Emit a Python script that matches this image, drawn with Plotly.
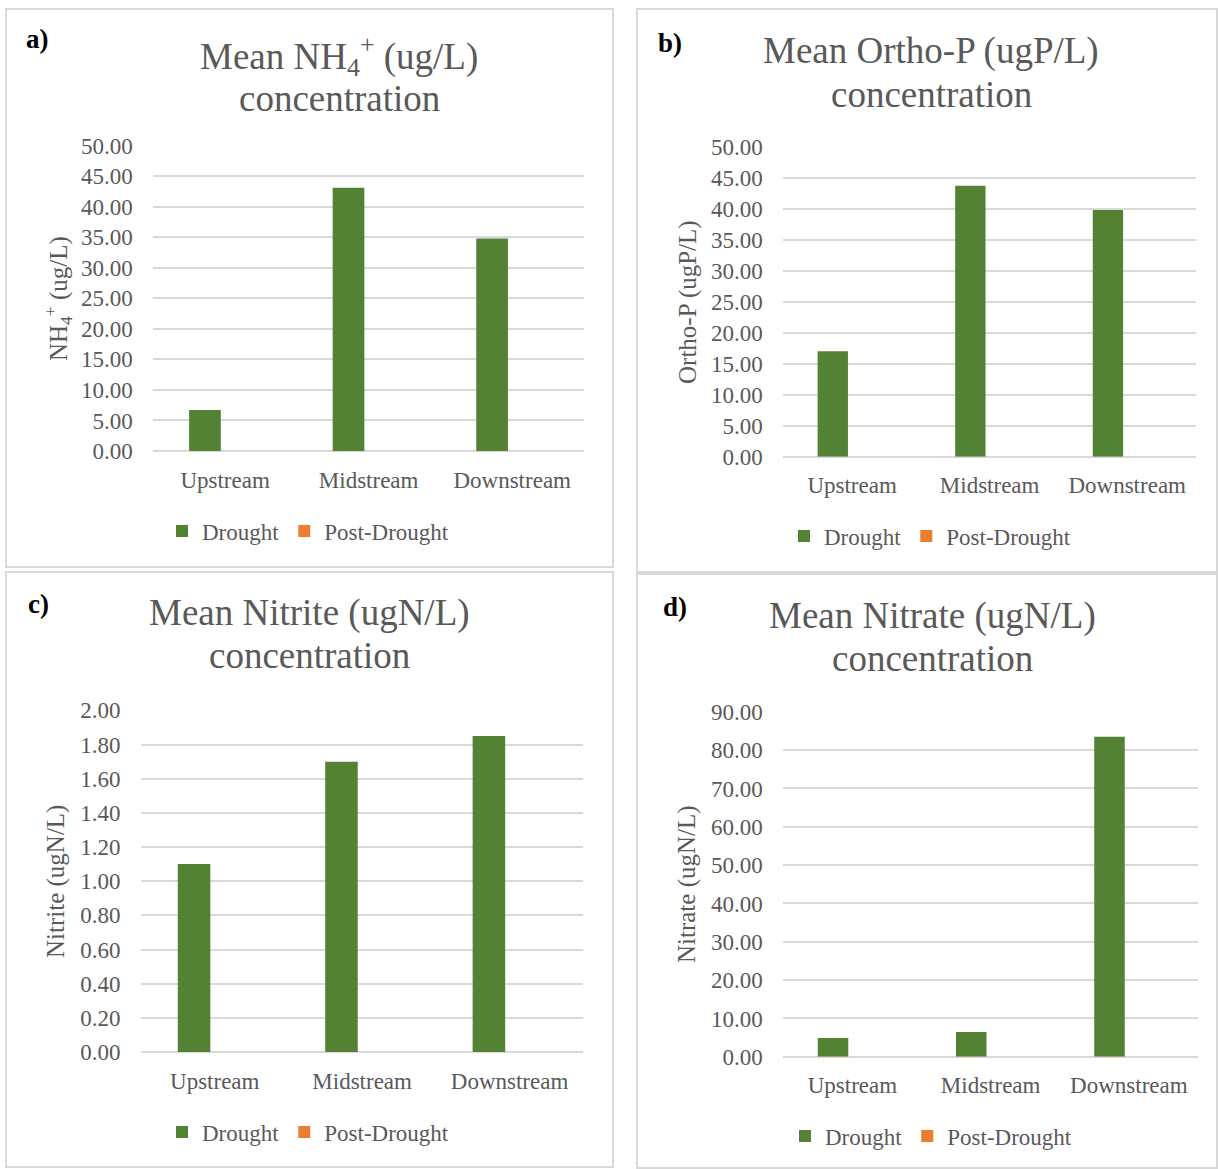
import plotly.graph_objects as go

W, H = 1218, 1169

categories = ["Upstream", "Midstream", "Downstream"]
series_names = ["Drought", "Post-Drought"]

nh4_drought = [6.7, 43.1, 34.8]
nh4_post = [None, None, None]
orthop_drought = [17.0, 43.7, 39.8]
orthop_post = [None, None, None]
nitrite_drought = [1.10, 1.70, 1.85]
nitrite_post = [None, None, None]
nitrate_drought = [4.9, 6.5, 83.5]
nitrate_post = [None, None, None]

panel_labels = ["a)", "b)", "c)", "d)"]
title_line1 = ["Mean NH<sub>4</sub><sup>+</sup> (ug/L)", "Mean Ortho-P (ugP/L)",
               "Mean Nitrite (ugN/L)", "Mean Nitrate (ugN/L)"]
title_line2 = ["concentration"] * 4
yaxis_titles = ["NH<sub>4</sub><sup>+</sup> (ug/L)", "Ortho-P (ugP/L)",
                "Nitrite (ugN/L)", "Nitrate (ugN/L)"]
y_ranges = [(0, 50), (0, 50), (0, 2), (0, 90)]
y_dticks = [5, 5, 0.2, 10]

GREEN = "#548235"
ORANGE = "#ED7D31"
GRAY = "#595959"
GRID = "#d9d9d9"
FONT = "Liberation Serif, Times New Roman, serif"

# layout geometry in pixels
plot_px = [  # x0, x1, ytop, ybottom
    (153.3, 584.0, 145.6, 451.0),
    (783.3, 1196.0, 146.7, 456.7),
    (141.0, 583.3, 710.4, 1052.0),
    (783.3, 1198.0, 711.8, 1056.8),
]
border_px = [(6, 613, 9, 567), (637, 1217, 9, 572), (6, 613, 572, 1167), (637, 1217, 574, 1168)]
label_px = [(37, 39), (670, 43), (38, 604), (675, 607)]
title_px = [(339, 55.7, 98.1), (931, 51.0, 94.7), (309, 613.3, 655.6), (932, 616.0, 658.3)]
ytitle_px = [(58, 299), (688, 302), (56, 882), (687, 884)]
legend_px = [(183, 531), (805, 536), (183, 1132), (806, 1136)]

def px(x):
    return x / W

def py(y):
    return 1 - y / H

drought = [nh4_drought, orthop_drought, nitrite_drought, nitrate_drought]
post = [nh4_post, orthop_post, nitrite_post, nitrate_post]

fig = go.Figure()
annotations = []
shapes = []
layout = {}

for i in range(4):
    sfx = "" if i == 0 else str(i + 1)
    lg = "legend" if i == 0 else f"legend{i + 1}"
    fig.add_trace(go.Bar(x=categories, y=drought[i], name=series_names[0],
                         marker=dict(color=GREEN, line=dict(width=0)),
                         xaxis="x" + sfx, yaxis="y" + sfx, legend=lg, showlegend=True))
    fig.add_trace(go.Bar(x=categories, y=post[i], name=series_names[1],
                         marker=dict(color=ORANGE, line=dict(width=0)),
                         xaxis="x" + sfx, yaxis="y" + sfx, legend=lg, showlegend=True))
    x0, x1, yt, yb = plot_px[i]
    layout["xaxis" + sfx] = dict(
        domain=[px(x0), px(x1)], anchor="y" + sfx, showgrid=False, showline=False,
        zeroline=False, ticks="outside", ticklen=8, tickcolor="rgba(0,0,0,0)",
        tickfont=dict(family=FONT, size=23, color=GRAY), fixedrange=True, automargin=False,
    )
    layout["yaxis" + sfx] = dict(
        domain=[py(yb), py(yt)], anchor="x" + sfx, range=list(y_ranges[i]),
        dtick=y_dticks[i], tick0=0, tickformat=".2f", showgrid=True, gridcolor=GRID,
        gridwidth=1.6, zeroline=True, zerolinecolor=GRID, zerolinewidth=1.6,
        showline=False, ticks="outside", ticklen=15, tickcolor="rgba(0,0,0,0)",
        tickfont=dict(family=FONT, size=23, color=GRAY), fixedrange=True, automargin=False,
    )
    lx, ly = legend_px[i]
    layout[lg] = dict(
        x=px(lx - 21), y=py(ly), xanchor="left", yanchor="middle", xref="paper", yref="paper",
        orientation="h", font=dict(family=FONT, size=23, color=GRAY),
        bgcolor="rgba(0,0,0,0)", traceorder="normal", itemclick=False, itemdoubleclick=False,
    )
    bx0, bx1, by0, by1 = border_px[i]
    shapes.append(dict(type="rect", xref="paper", yref="paper",
                       x0=px(bx0), x1=px(bx1), y0=py(by1), y1=py(by0),
                       line=dict(color=GRID, width=2), fillcolor="rgba(0,0,0,0)", layer="below"))
    lxp, lyp = label_px[i]
    annotations.append(dict(text=panel_labels[i], x=px(lxp), y=py(lyp), xref="paper", yref="paper",
                            xanchor="center", yanchor="middle", showarrow=False,
                            font=dict(family=FONT, size=27, color="black", weight="bold")))
    tx, ty1, ty2 = title_px[i]
    annotations.append(dict(text=title_line1[i], x=px(tx), y=py(ty1), xref="paper", yref="paper",
                            xanchor="center", yanchor="middle", showarrow=False,
                            font=dict(family=FONT, size=37, color=GRAY)))
    annotations.append(dict(text=title_line2[i], x=px(tx), y=py(ty2), xref="paper", yref="paper",
                            xanchor="center", yanchor="middle", showarrow=False,
                            font=dict(family=FONT, size=37, color=GRAY)))
    ax, ay = ytitle_px[i]
    annotations.append(dict(text=yaxis_titles[i], x=px(ax), y=py(ay), xref="paper", yref="paper",
                            xanchor="center", yanchor="middle", showarrow=False, textangle=-90,
                            font=dict(family=FONT, size=25, color=GRAY)))

fig.update_layout(
    width=W, height=H, margin=dict(l=0, r=0, t=0, b=0, autoexpand=False),
    paper_bgcolor="white", plot_bgcolor="white",
    barmode="group", bargap=0.439, bargroupgap=0.213,
    annotations=annotations, shapes=shapes, **layout,
)

fig.write_html("out.html", config={"displayModeBar": False})
